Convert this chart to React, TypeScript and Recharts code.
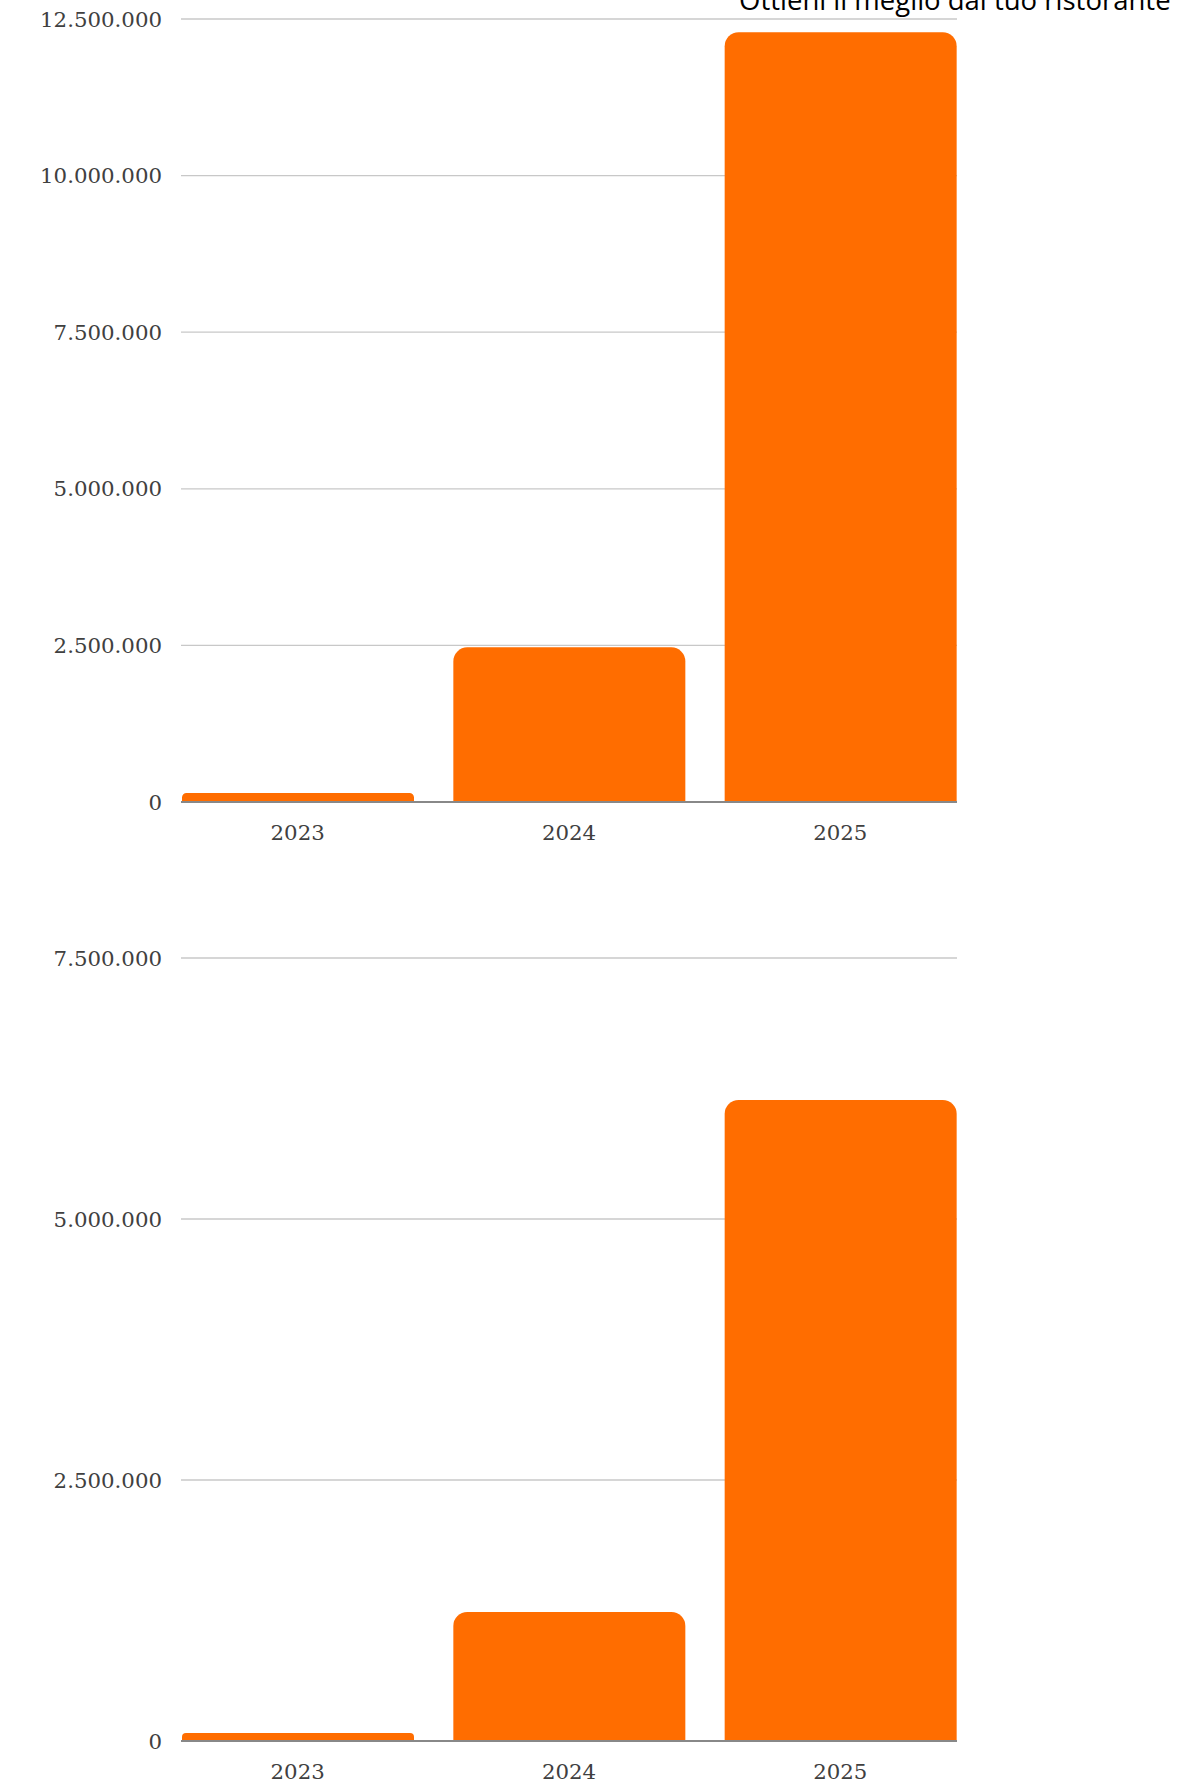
import React from 'react';
import { BarChart, Bar, XAxis, YAxis, CartesianGrid } from 'recharts';

const years = ['2023', '2024', '2025'];
const seriesTop = [145000, 2470000, 12290000];
const seriesBottom = [77000, 1236000, 6140000];
const ticksTop = [0, 2500000, 5000000, 7500000, 10000000, 12500000];
const ticksBottom = [0, 2500000, 5000000, 7500000];
const title = 'Ottieni il meglio dal tuo ristorante';

const fmt = (v: number) => String(v).replace(/\B(?=(\d{3})+(?!\d))/g, '.');

const tickStyle = { fontFamily: '"DejaVu Serif", serif', fontSize: 21.3, fill: '#404040' };

type ChartProps = {
  values: number[];
  ticks: number[];
  top: number;
  height: number;
  marginTop: number;
  xAxisHeight: number;
};

function OneChart({ values, ticks, top, height, marginTop, xAxisHeight }: ChartProps) {
  const data = years.map((y, i) => ({ year: y, value: values[i] }));
  return (
    <div style={{ position: 'absolute', left: 0, top, width: 1203, height }}>
      <BarChart
        width={1203}
        height={height}
        data={data}
        margin={{ top: marginTop, right: 246, bottom: 0, left: 0 }}
      >
        <CartesianGrid vertical={false} stroke="#c8c8c8" strokeWidth={1.3} />
        <XAxis
          dataKey="year"
          height={xAxisHeight}
          padding={{ left: -19, right: -19 }}
          tickLine={false}
          tickSize={0}
          tickMargin={23}
          axisLine={{ stroke: '#888888', strokeWidth: 2 }}
          tick={tickStyle}
          interval={0}
        />
        <YAxis
          width={181}
          domain={[0, ticks[ticks.length - 1]]}
          ticks={ticks}
          tickFormatter={fmt}
          axisLine={false}
          tickLine={false}
          tickSize={0}
          tickMargin={19}
          tick={tickStyle}
          interval={0}
        />
        <Bar dataKey="value" fill="#ff6d00" barSize={232} radius={[14, 14, 0, 0]} isAnimationActive={false} />
      </BarChart>
    </div>
  );
}

export default function App() {
  return (
    <div style={{ position: 'absolute', left: 0, top: 0, width: 1203, height: 1785, overflow: 'hidden', background: '#ffffff' }}>
      <OneChart values={seriesTop} ticks={ticksTop} top={0} height={860} marginTop={19} xAxisHeight={58} />
      <OneChart values={seriesBottom} ticks={ticksBottom} top={900} height={885} marginTop={58} xAxisHeight={44} />
      <div
        style={{
          position: 'absolute',
          left: 739,
          top: -14,
          fontFamily: '"Open Sans", sans-serif',
          fontSize: 27.5,
          lineHeight: '27.5px',
          color: '#000000',
          whiteSpace: 'nowrap',
        }}
      >
        {title}
      </div>
    </div>
  );
}
